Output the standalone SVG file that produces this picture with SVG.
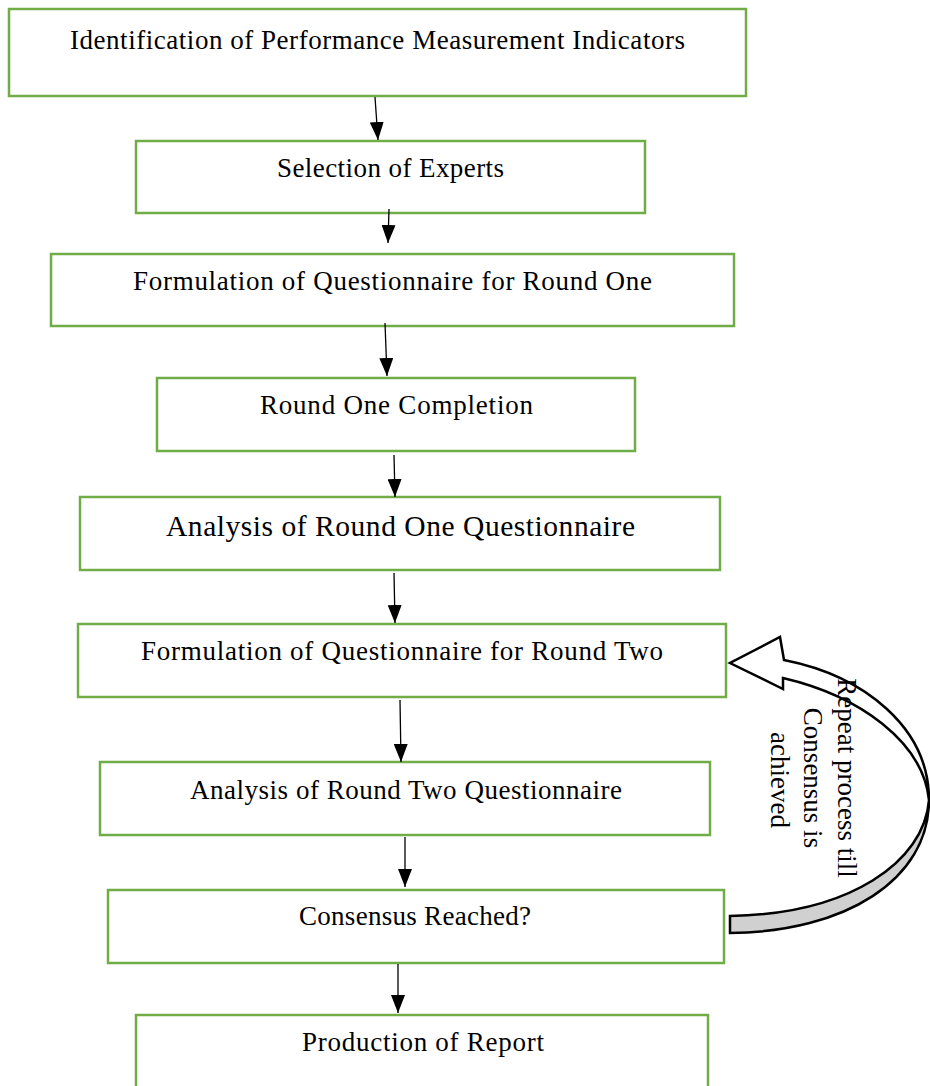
<svg xmlns="http://www.w3.org/2000/svg" width="930" height="1086" viewBox="0 0 930 1086">
<style>
.box{fill:#ffffff;stroke:#70AD47;stroke-width:2.5}
.t{font-family:"Liberation Serif","Times New Roman",serif;font-size:27px;fill:#000;text-anchor:middle}
.c{stroke:#000;stroke-width:1.3;fill:none;marker-end:url(#ah)}
.rt{font-family:"Liberation Serif","Times New Roman",serif;font-size:27px;fill:#000;text-anchor:middle}
.ribbon{stroke:#000;stroke-width:2.5;stroke-linejoin:miter}
</style>
<defs>
<marker id="ah" markerUnits="userSpaceOnUse" markerWidth="18" markerHeight="14" refX="18" refY="7" orient="auto">
<path d="M0,0 L18,7 L0,14 Z" fill="#000"/>
</marker>
</defs>
<rect width="930" height="1086" fill="#ffffff"/>
<g id="n1"><rect class="box" x="9" y="9" width="737" height="87"/><text class="t" x="377.5" y="49" textLength="615" lengthAdjust="spacing">Identification of Performance Measurement Indicators</text></g>
<g id="n2"><rect class="box" x="136" y="141" width="509" height="72"/><text class="t" x="390.5" y="177" textLength="227" lengthAdjust="spacing">Selection of Experts</text></g>
<g id="n3"><rect class="box" x="51" y="254" width="683" height="72"/><text class="t" x="392.5" y="290" textLength="519" lengthAdjust="spacing">Formulation of Questionnaire for Round One</text></g>
<g id="n4"><rect class="box" x="157" y="378" width="478" height="73"/><text class="t" x="396.5" y="414" textLength="273" lengthAdjust="spacing">Round One Completion</text></g>
<g id="n5"><rect class="box" x="80" y="497" width="640" height="73"/><text class="t" x="400.5" y="536" style="font-size:29.5px" textLength="469" lengthAdjust="spacing">Analysis of Round One Questionnaire</text></g>
<g id="n6"><rect class="box" x="78" y="624" width="648" height="73"/><text class="t" x="402" y="660" textLength="522" lengthAdjust="spacing">Formulation of Questionnaire for Round Two</text></g>
<g id="n7"><rect class="box" x="100" y="762" width="610" height="73"/><text class="t" x="406" y="799" textLength="432" lengthAdjust="spacing">Analysis of Round Two Questionnaire</text></g>
<g id="n8"><rect class="box" x="108" y="890" width="616" height="73"/><text class="t" x="415" y="925" textLength="232" lengthAdjust="spacing">Consensus Reached?</text></g>
<g id="n9"><rect class="box" x="136" y="1015" width="572" height="90"/><text class="t" x="423" y="1051" textLength="242" lengthAdjust="spacing">Production of Report</text></g>
<g id="connectors">
<line class="c" x1="375" y1="97" x2="378" y2="140"/>
<line class="c" x1="389" y1="209" x2="388" y2="243"/>
<line class="c" x1="385" y1="323" x2="387" y2="376"/>
<line class="c" x1="394" y1="455" x2="395" y2="497"/>
<line class="c" x1="394" y1="573" x2="395" y2="623"/>
<line class="c" x1="400" y1="700" x2="401" y2="762"/>
<line class="c" x1="405" y1="837" x2="405" y2="887"/>
<line class="c" x1="398" y1="964" x2="398" y2="1013"/>
<g id="loop">
<path class="ribbon" fill="#d0d0d0" d="M929,800 C929,880 845,932 730,933 L730,916 C850,914 924,862 929,800 Z"/>
<path class="ribbon" fill="#ffffff" d="M784,660 L780,637 L730,663 L783,689 L783,678 C860,696 923,742 929,800 C929,728 865,676 784,660 Z"/>
</g>
</g>
<g id="loop-label">
<text class="rt" transform="translate(838,778) rotate(90)">Repeat process till</text>
<text class="rt" transform="translate(804,778) rotate(90)">Consensus is</text>
<text class="rt" transform="translate(771,780) rotate(90)">achieved</text>
</g>
</svg>
